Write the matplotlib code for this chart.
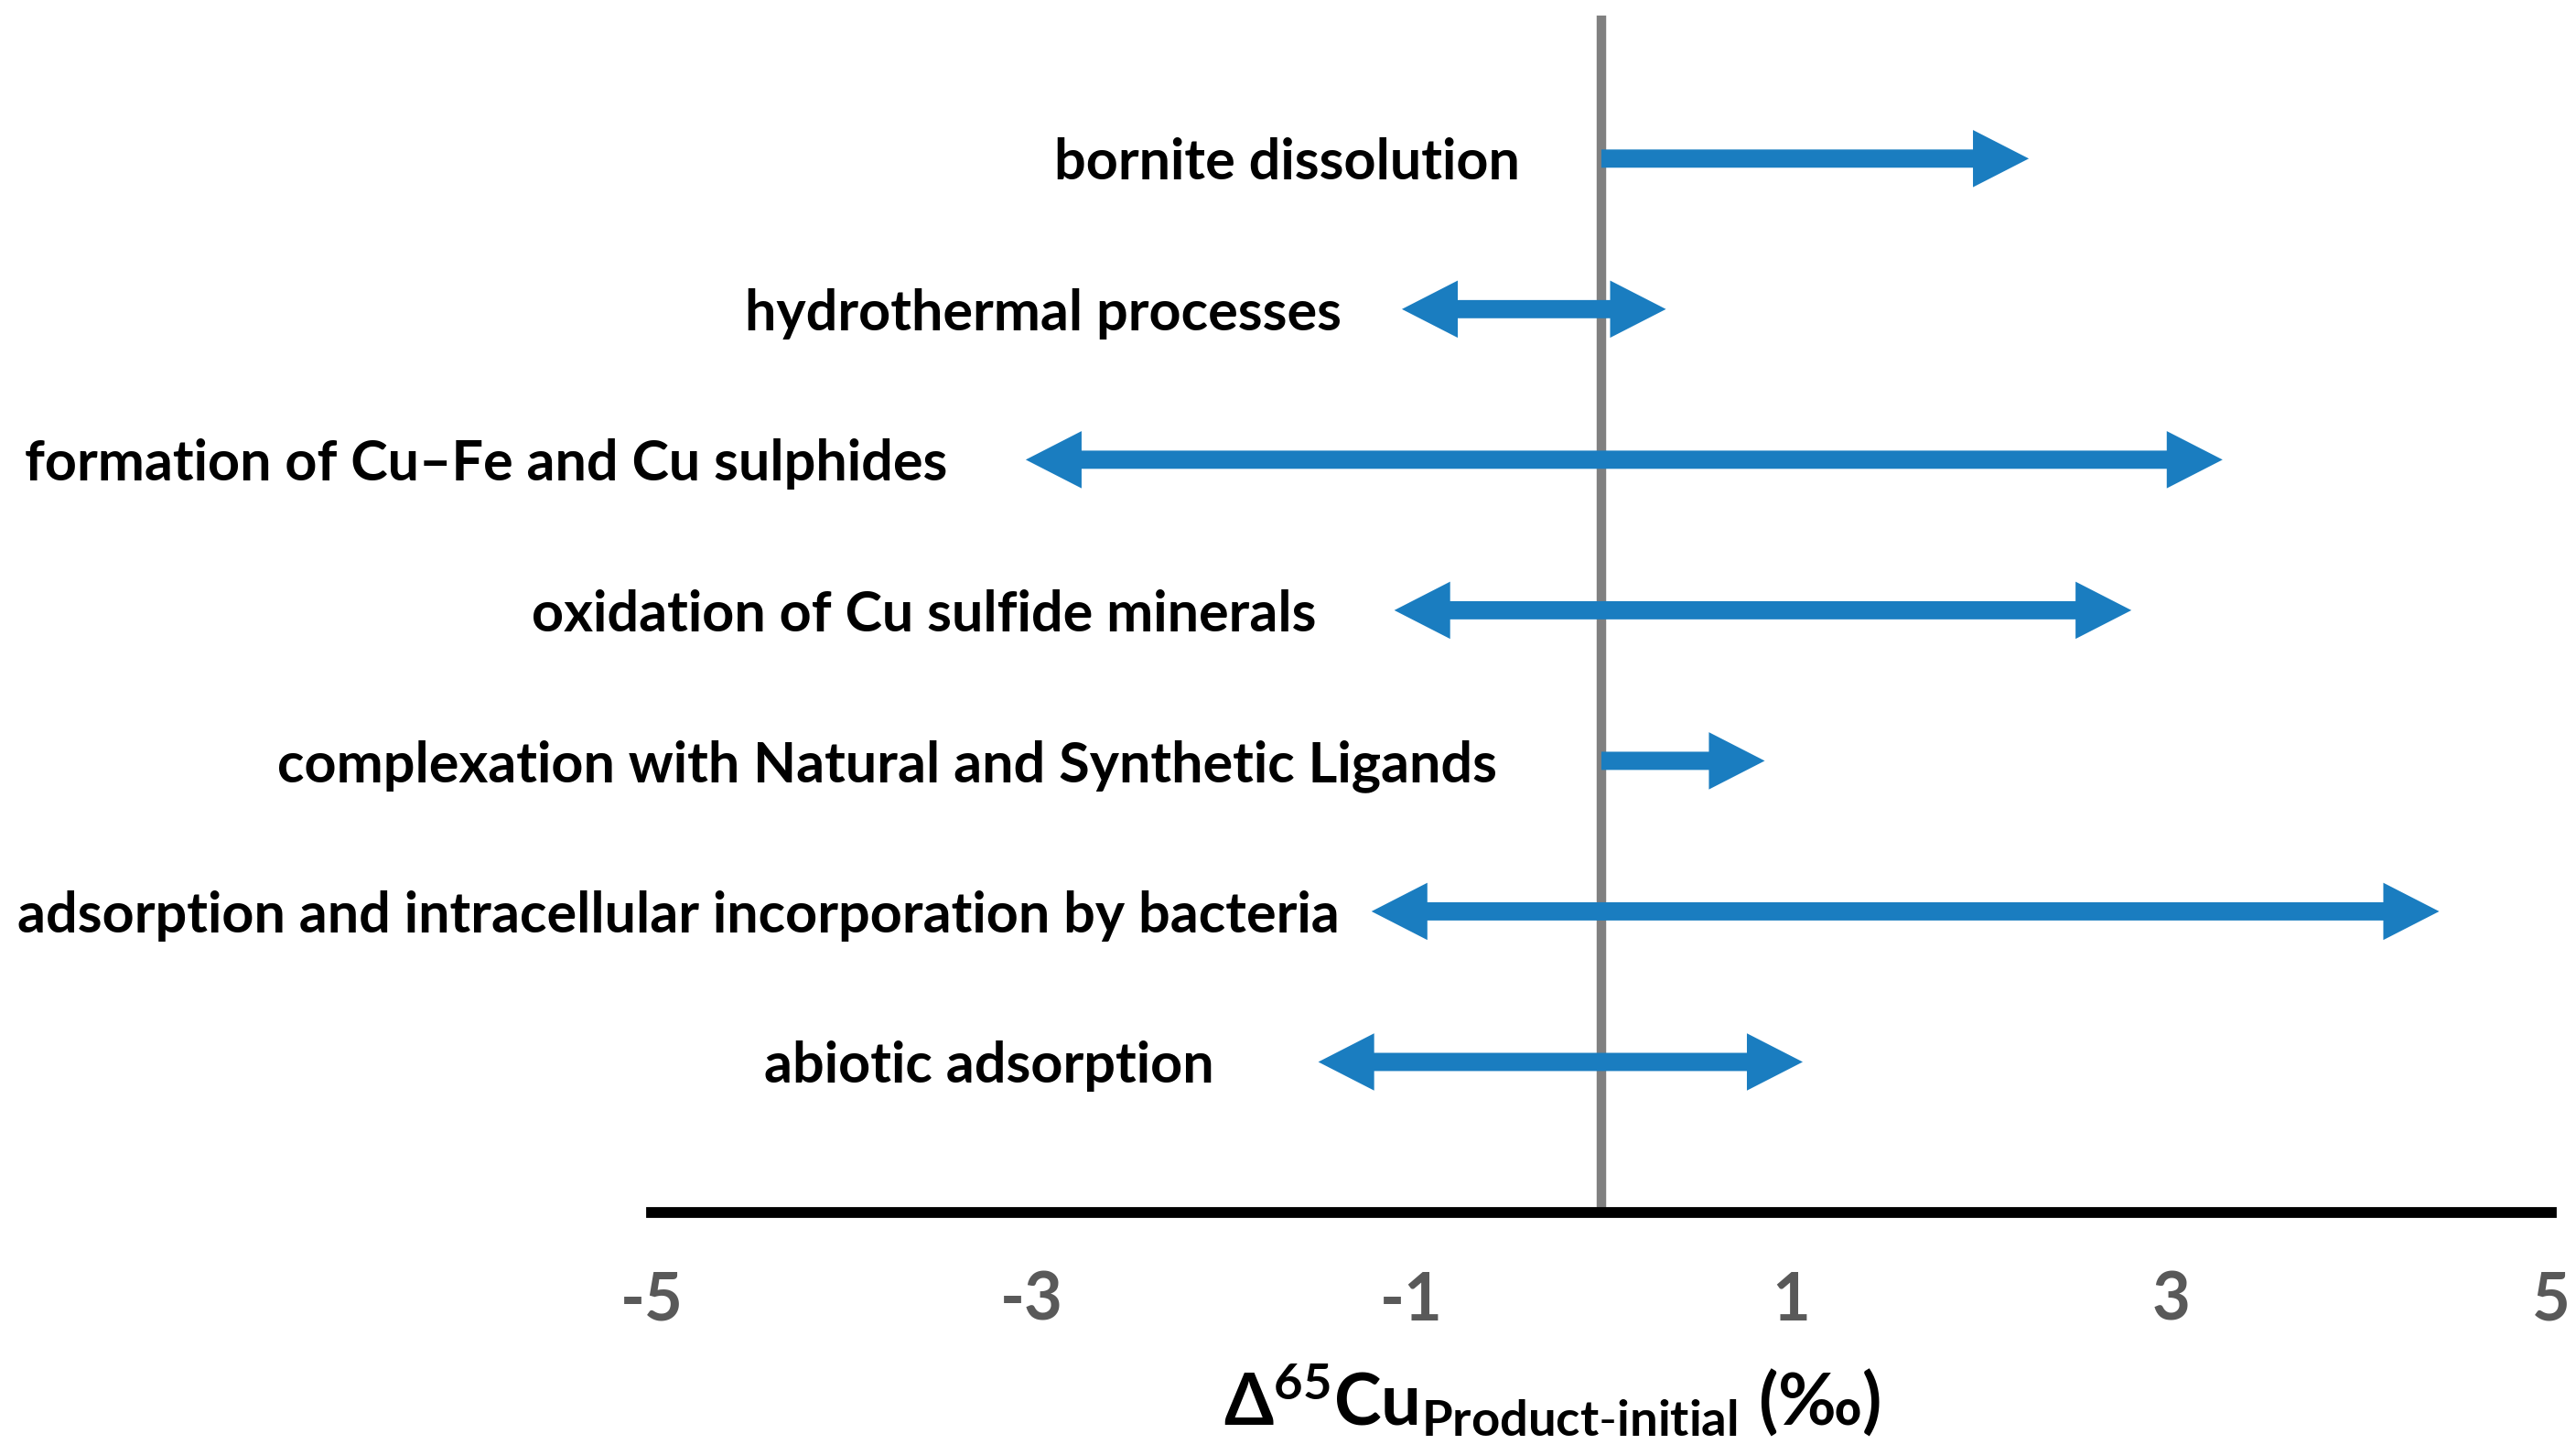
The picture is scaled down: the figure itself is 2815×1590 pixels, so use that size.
import matplotlib.pyplot as plt
from matplotlib.patches import Polygon

plt.rcParams['font.family'] = ['Lato', 'DejaVu Sans']
plt.rcParams['mathtext.fontset'] = 'custom'
plt.rcParams['mathtext.rm'] = 'Lato'
plt.rcParams['mathtext.bf'] = 'Lato:bold'
plt.rcParams['mathtext.it'] = 'Lato:italic'

# processes, top to bottom
processes = [
    'bornite dissolution',
    'hydrothermal processes',
    'formation of Cu\u2013Fe and Cu sulphides',
    'oxidation of Cu sulfide minerals',
    'complexation with Natural and Synthetic Ligands',
    'adsorption and intracellular incorporation by bacteria',
    'abiotic adsorption',
]
# range of delta65Cu (product - initial), permil
low = [0.0, -1.05, -3.03, -1.09, 0.0, -1.21, -1.49]
high = [2.25, 0.34, 3.27, 2.79, 0.86, 4.41, 1.06]
double_headed = [False, True, True, True, False, True, True]

xticks = [-5, -3, -1, 1, 3, 5]

# layout / style
label_gap = [0.43, 0.32, 0.41, 0.41, 0.55, 0.17, 0.55]
blue = '#1a7dc0'
shaft_w = 0.121      # y units
head_w = 0.38        # y units
head_l = 0.294       # x units


def arrow_poly(lo, hi, y, both):
    s, h = shaft_w / 2, head_w / 2
    right = [(hi - head_l, y + s), (hi - head_l, y + h), (hi, y),
             (hi - head_l, y - h), (hi - head_l, y - s)]
    if both:
        left = [(lo + head_l, y - s), (lo + head_l, y - h), (lo, y),
                (lo + head_l, y + h), (lo + head_l, y + s)]
    else:
        left = [(lo, y - s), (lo, y + s)]
    return Polygon(right + left, closed=True, facecolor=blue, edgecolor='none')


fig = plt.figure(figsize=(28.15, 15.9), dpi=100)
ax = fig.add_axes([0.2529, 1 - 1325 / 1590, 0.7375, (1325 - 17) / 1590])

n = len(processes)
for i, name in enumerate(processes):
    y = n - i
    ax.add_patch(arrow_poly(low[i], high[i], y, double_headed[i]))
    ax.text(min(low[i], 0) - label_gap[i], y, name, ha='right', va='center_baseline',
            fontsize=44, fontweight='bold', color='black')

ax.axvline(0, color='#808080', lw=7.5, zorder=0)

ax.set_xlim(-5, 5)
ax.set_ylim(0, 7.95)
for s in ['top', 'left', 'right']:
    ax.spines[s].set_visible(False)
ax.spines['bottom'].set_linewidth(8.5)
ax.spines['bottom'].set_color('black')
ax.set_yticks([])
ax.set_xticks(xticks)
ax.set_xticklabels([str(t) for t in xticks])
ax.tick_params(axis='x', length=0, pad=46, labelsize=52, labelcolor='#595959')
for lbl in ax.get_xticklabels():
    lbl.set_fontweight('bold')

ax.text(0.474, -0.178, r'$\mathbf{\Delta^{65}Cu_{Product\text{-}initial}}$ (‰)',
        transform=ax.transAxes, ha='center', va='baseline',
        fontsize=56, fontweight='bold', color='black')

fig.savefig('out.png', dpi=100)
